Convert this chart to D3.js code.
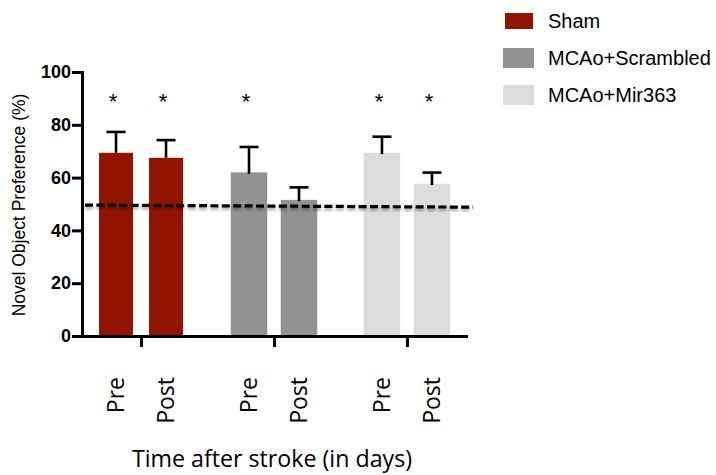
<!DOCTYPE html>
<html>
<head>
<meta charset="utf-8">
<script src="https://cdn.jsdelivr.net/npm/d3@7"></script>
<style>
  html, body { margin: 0; padding: 0; background: #fff; }
  svg { display: block; }
</style>
</head>
<body>
<svg id="chart" width="716" height="475"></svg>
<script>
// Groups, time points and tick values
const groups = ["Sham", "MCAo+Scrambled", "MCAo+Mir363"];
const times = ["Pre", "Post"];
const yTicks = [0, 20, 40, 60, 80, 100];

// Mean novel object preference (%) per group, [Pre, Post]
const meanSham = [69.4, 67.5];
const meanScrambled = [61.5, 51.1];
const meanMir363 = [68.9, 57.2];

// SEM per group, [Pre, Post]
const semSham = [7.9, 6.7];
const semScrambled = [10.1, 5.2];
const semMir363 = [6.6, 4.7];

// Significance vs. chance, [Pre, Post]
const sigSham = [true, true];
const sigScrambled = [true, false];
const sigMir363 = [true, true];

// Chance level line (start and end values)
const chanceLine = [49.6, 48.8];

const colors = { "Sham": "#921400", "MCAo+Scrambled": "#929292", "MCAo+Mir363": "#dcdcdc" };

const means = [meanSham, meanScrambled, meanMir363];
const sems = [semSham, semScrambled, semMir363];
const sigs = [sigSham, sigScrambled, sigMir363];

const rows = [];
groups.forEach((g, gi) => {
  times.forEach((t, ti) => {
    rows.push({ group: g, time: t, mean: means[gi][ti], sem: sems[gi][ti], sig: sigs[gi][ti] });
  });
});

const svg = d3.select("#chart");

const y = d3.scaleLinear().domain([0, 100]).range([336, 72]);
const x = d3.scalePoint().domain(groups).range([82, 466]).padding(0.444);
const xi = d3.scaleBand().domain(times).range([-42, 42]).paddingInner(0.32).paddingOuter(0);
const cx = d => x(d.group) + xi(d.time) + xi.bandwidth() / 2;

const defs = svg.append("defs");
const f = defs.append("filter").attr("id", "shadow")
  .attr("x", "-5%").attr("y", "-200%").attr("width", "110%").attr("height", "500%");
f.append("feDropShadow").attr("dx", 0).attr("dy", 2.5).attr("stdDeviation", 1.6)
  .attr("flood-color", "#000").attr("flood-opacity", 0.35);

// Bars
svg.append("g").selectAll("rect").data(rows).join("rect")
  .attr("x", d => x(d.group) + xi(d.time))
  .attr("width", xi.bandwidth())
  .attr("y", d => y(d.mean))
  .attr("height", d => y(0) - y(d.mean))
  .attr("fill", d => colors[d.group])
  .attr("stroke", d => d.group === "Sham" ? "none" : colors[d.group])
  .attr("stroke-width", 2.5);

// Error bars (upper only)
const eb = svg.append("g").attr("stroke", "#000").attr("stroke-width", 2.6);
eb.selectAll("line.v").data(rows).join("line").attr("class", "v")
  .attr("x1", cx).attr("x2", cx)
  .attr("y1", d => y(d.mean))
  .attr("y2", d => y(d.mean + d.sem));
eb.selectAll("line.c").data(rows).join("line").attr("class", "c")
  .attr("x1", d => cx(d) - 9.5)
  .attr("x2", d => cx(d) + 9.5)
  .attr("y1", d => y(d.mean + d.sem))
  .attr("y2", d => y(d.mean + d.sem));

// Chance level dashed line
svg.append("line")
  .attr("x1", 85).attr("x2", 473)
  .attr("y1", y(chanceLine[0])).attr("y2", y(chanceLine[1]))
  .attr("stroke", "#000").attr("stroke-width", 3.2)
  .attr("stroke-dasharray", "8,3.4")
  .attr("filter", "url(#shadow)");

// Significance asterisks
svg.append("g").selectAll("text").data(rows.filter(d => d.sig)).join("text")
  .attr("x", d => cx(d) - 3)
  .attr("y", y(91) + 13)
  .attr("text-anchor", "middle")
  .attr("font-family", "Liberation Sans, Arial, sans-serif")
  .attr("font-size", 22)
  .attr("fill", "#000")
  .text("*");

// Y axis
const yAxis = svg.append("g").attr("transform", "translate(82,0)")
  .call(d3.axisLeft(y).tickValues(yTicks).tickSize(10).tickSizeOuter(0).tickPadding(1));
yAxis.select(".domain").attr("stroke-width", 3).attr("stroke-linecap", "square");
yAxis.selectAll(".tick line").attr("stroke-width", 3);
yAxis.selectAll(".tick text")
  .attr("font-family", "Liberation Sans, Arial, sans-serif")
  .attr("font-weight", "bold")
  .attr("font-size", 18)
  .attr("fill", "#000");

// X axis
const xAxis = svg.append("g").attr("transform", "translate(0,336)")
  .call(d3.axisBottom(x).tickSize(11).tickSizeOuter(0).tickFormat(""));
xAxis.select(".domain").attr("stroke-width", 3).attr("stroke-linecap", "square");
xAxis.selectAll(".tick line").attr("stroke-width", 3);

// Time point labels (rotated)
svg.append("g").selectAll("text").data(rows).join("text")
  .attr("transform", d => `translate(${cx(d)},377) rotate(-90)`)
  .attr("text-anchor", "end")
  .attr("dy", "0.36em")
  .attr("font-family", "Open Sans, sans-serif")
  .attr("font-size", 23)
  .attr("fill", "#000")
  .text(d => d.time);

// Axis titles
svg.append("text")
  .attr("transform", "translate(25,205) rotate(-90)")
  .attr("text-anchor", "middle")
  .attr("font-family", "Liberation Sans, Arial, sans-serif")
  .attr("font-size", 17.5)
  .attr("fill", "#000")
  .text("Novel Object Preference (%)");

svg.append("text")
  .attr("x", 272).attr("y", 467)
  .attr("text-anchor", "middle")
  .attr("font-family", "Open Sans, sans-serif")
  .attr("font-size", 23.2)
  .attr("fill", "#000")
  .text("Time after stroke (in days)");

// Legend
const legend = svg.append("g");
const swatch = [
  { x: 505, y: 13, w: 28, h: 16 },
  { x: 503, y: 48, w: 31, h: 20 },
  { x: 503, y: 85, w: 31, h: 20 }
];
groups.forEach((g, i) => {
  legend.append("rect")
    .attr("x", swatch[i].x).attr("y", swatch[i].y)
    .attr("width", swatch[i].w).attr("height", swatch[i].h)
    .attr("fill", colors[g]);
  legend.append("text")
    .attr("x", 548).attr("y", 28 + i * 36.9)
    .attr("font-family", "Liberation Sans, Arial, sans-serif")
    .attr("font-size", 20)
    .attr("fill", "#000")
    .text(g);
});
</script>
</body>
</html>
